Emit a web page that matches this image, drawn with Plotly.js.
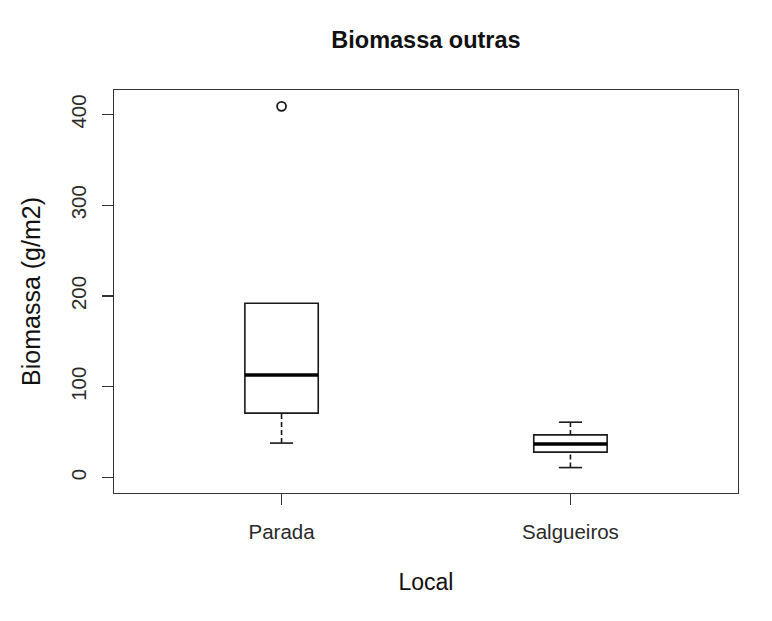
<!DOCTYPE html>
<html>
<head>
<meta charset="utf-8">
<script src="https://cdn.plot.ly/plotly-3.0.1.min.js"></script>
<style>html,body{margin:0;padding:0;background:#fff;}#chart{width:772px;height:621px;}</style>
</head>
<body>
<div id="chart"></div>
<script>
// Data
const categories = ["Parada", "Salgueiros"];
const positions = [1, 2];
const q1 = [71, 28];
const medians = [113, 37];
const q3 = [192, 47];
const lowerWhisker = [38, 11];
const upperWhisker = [192, 61];
const outliersX = [1];
const outliersY = [409];
const yTicks = [0, 100, 200, 300, 400];

const boxHalf = 0.127;
const capHalf = 0.04;
const ink = "#1a1a1a";

const traces = [];
traces.push({
  type: "box",
  x: positions,
  q1: q1, median: medians, q3: q3,
  lowerfence: q1, upperfence: q3,
  width: boxHalf * 2,
  whiskerwidth: 0,
  fillcolor: "rgba(255,255,255,0)",
  line: {color: ink, width: 1.6},
  boxpoints: false,
  hoverinfo: "skip",
  showlegend: false
});
const wx = [], wy = [], cx = [], cy = [], mx = [], my = [];
for (let i = 0; i < positions.length; i++) {
  const p = positions[i];
  if (lowerWhisker[i] < q1[i]) { wx.push(p, p, null); wy.push(lowerWhisker[i], q1[i], null);
    cx.push(p - capHalf, p + capHalf, null); cy.push(lowerWhisker[i], lowerWhisker[i], null); }
  if (upperWhisker[i] > q3[i]) { wx.push(p, p, null); wy.push(q3[i], upperWhisker[i], null);
    cx.push(p - capHalf, p + capHalf, null); cy.push(upperWhisker[i], upperWhisker[i], null); }
  mx.push(p - boxHalf, p + boxHalf, null); my.push(medians[i], medians[i], null);
}
traces.push({type: "scatter", mode: "lines", x: wx, y: wy, line: {color: ink, width: 1.6, dash: "5px,3px"}, hoverinfo: "skip", showlegend: false});
traces.push({type: "scatter", mode: "lines", x: cx, y: cy, line: {color: ink, width: 1.6}, hoverinfo: "skip", showlegend: false});
traces.push({type: "scatter", mode: "lines", x: mx, y: my, line: {color: "#000", width: 3.6}, hoverinfo: "skip", showlegend: false});
traces.push({type: "scatter", mode: "markers", x: outliersX, y: outliersY,
  marker: {symbol: "circle-open", size: 9, color: ink, line: {width: 1.8}}, hoverinfo: "skip", showlegend: false});

const fam = "Liberation Sans, Arial, sans-serif";
const axFont = {family: fam, size: 20.5, color: "#2a2a2a"};
const layout = {
  width: 772, height: 621,
  margin: {l: 114, r: 34, t: 90, b: 128},
  paper_bgcolor: "#fff", plot_bgcolor: "#fff",
  title: {text: "<b>Biomassa outras</b>", x: 0.5518, xanchor: "center", y: 0.9356, yanchor: "middle",
    font: {family: fam, size: 23.5, color: "#111"}},
  xaxis: {
    range: [0.42, 2.58], tickvals: positions, ticktext: categories,
    showgrid: false, zeroline: false, showline: true, mirror: true, linecolor: "#333", linewidth: 1.3,
    ticks: "outside", ticklen: 11, tickcolor: "#333", tickwidth: 1.3, tickfont: axFont, ticklabelstandoff: 9,
    title: {text: "Local", font: {family: fam, size: 23, color: "#111"}, standoff: 32}
  },
  yaxis: {
    range: [-17, 427], tickvals: yTicks, ticktext: yTicks.map(String), tickangle: -90,
    showgrid: false, zeroline: false, showline: true, mirror: true, linecolor: "#333", linewidth: 1.3,
    ticks: "outside", ticklen: 11, tickcolor: "#333", tickwidth: 1.3, tickfont: axFont, ticklabelstandoff: 8,
    title: {text: "Biomassa (g/m2)", font: {family: fam, size: 25, color: "#111"}, standoff: 18}
  }
};
Plotly.newPlot("chart", traces, layout, {displayModeBar: false, staticPlot: true});
</script>
</body>
</html>
